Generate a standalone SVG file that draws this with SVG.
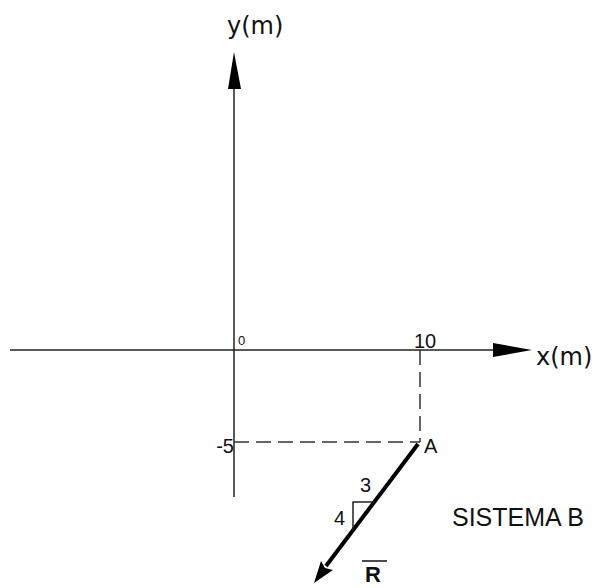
<svg xmlns="http://www.w3.org/2000/svg" width="609" height="588" viewBox="0 0 609 588">
<style>
.ax{stroke:#222;stroke-width:1.5;fill:none}
.dash{stroke:#333;stroke-width:1.5;fill:none;stroke-dasharray:15 7}
.t{font-family:"Liberation Sans",Arial,sans-serif;fill:#111}
.d{font-family:"DejaVu Sans","Liberation Sans",sans-serif;fill:#111}
</style>
<rect width="609" height="588" fill="#fff"/>
<g id="connectors">
<line class="ax" x1="10" y1="350" x2="494" y2="350"/>
<polygon points="532,350 493,343 493,357" fill="#000"/>
<line class="ax" x1="234" y1="88" x2="234" y2="497"/>
<polygon points="234,52 228,89 241,89" fill="#000"/>
<line class="dash" x1="420" y1="350" x2="420" y2="442"/>
<line class="dash" x1="234" y1="442" x2="420" y2="442"/>
<line x1="418" y1="444" x2="326" y2="566" stroke="#000" stroke-width="4"/>
<polygon points="314,583 333,570 325,568 321,561" fill="#000"/>
<polyline points="353,530 353,502 374,502" class="ax" stroke-width="1.2"/>
<line x1="362" y1="561" x2="387" y2="561" stroke="#111" stroke-width="1.5"/>
</g>
<g id="labels">
<text class="d" x="227" y="34" font-size="24">y(m)</text>
<text class="d" x="536" y="365" font-size="24">x(m)</text>
<text class="t" x="238" y="345" font-size="13">0</text>
<text class="t" x="414" y="348" font-size="20">10</text>
<text class="t" x="234" y="453" font-size="20" text-anchor="end">-5</text>
<text class="t" x="424" y="453" font-size="20">A</text>
<text class="t" x="360" y="492" font-size="20">3</text>
<text class="t" x="334" y="525" font-size="20">4</text>
<text class="t" x="365" y="582" font-size="22" font-weight="bold">R</text>
<text class="t" x="452" y="526" font-size="25">SISTEMA B</text>
</g>
</svg>
